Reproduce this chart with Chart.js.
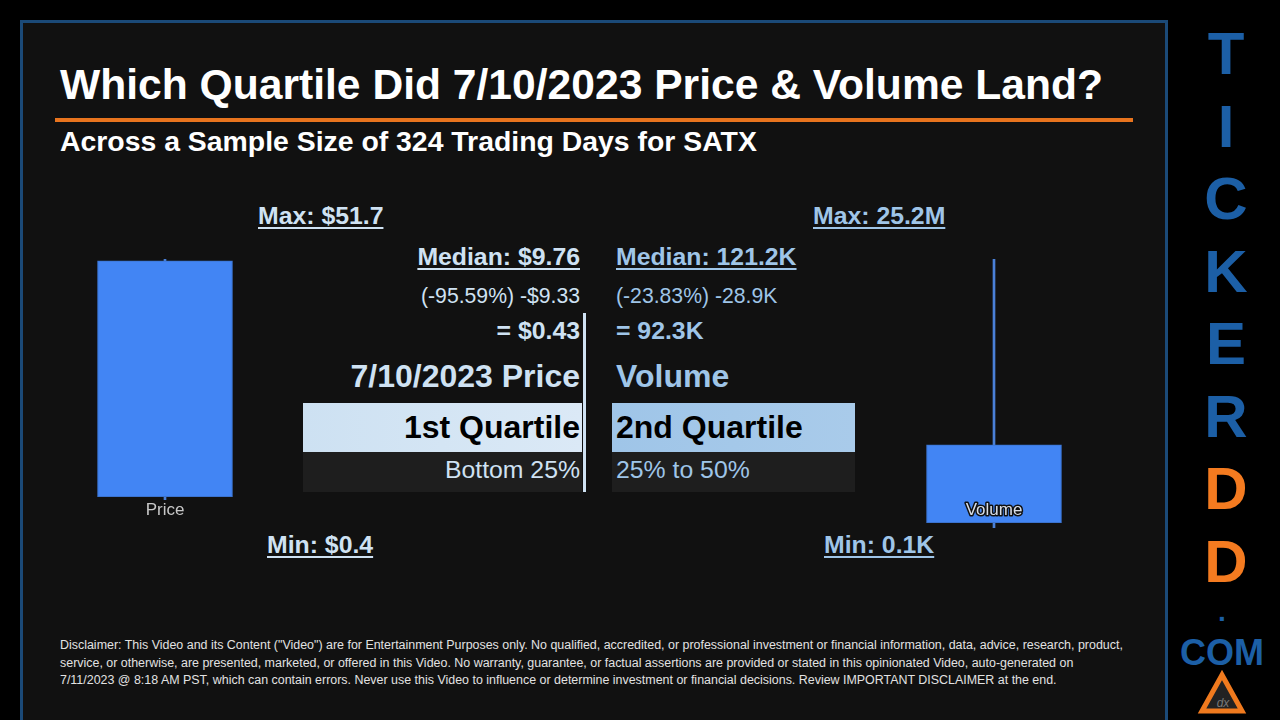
<!DOCTYPE html>
<html>
<head>
<meta charset="utf-8">
<script src="https://cdn.jsdelivr.net/npm/chart.js@4.4.1/dist/chart.umd.min.js"></script>
<style>
  html, body { margin: 0; padding: 0; background: #000; }
  body { width: 1280px; height: 720px; overflow: hidden; position: relative;
         font-family: "Liberation Sans", Arial, sans-serif; }
  .abs { position: absolute; white-space: nowrap; }
  .ul { text-decoration: underline; text-decoration-thickness: 2px; text-underline-offset: 3px; }
  #panel { position: absolute; left: 20px; top: 20px; width: 1148px; height: 720px;
           box-sizing: border-box; border: 3px solid #1b4a78; border-bottom: none; background: #111; }
  #rule { position: absolute; left: 55px; top: 118px; width: 1078px; height: 4px; background: #e8741e; }
  .box { position: absolute; }
  #disc { position: absolute; left: 60px; top: 637px; font-size: 12.45px; line-height: 17.5px; color: #e2e2e2; }
  canvas { position: absolute; }
</style>
</head>
<body>
<div id="panel"></div>
<div id="rule"></div>

<div class="box" style="left:303px;top:403px;width:279px;height:49px;background:linear-gradient(90deg,#cde1f2,#dbe9f6);"></div>
<div class="box" style="left:303px;top:452px;width:279px;height:40px;background:#1e1e1e;"></div>
<div class="box" style="left:612px;top:403px;width:243px;height:49px;background:linear-gradient(90deg,#9fc5e8,#a9cbea);"></div>
<div class="box" style="left:612px;top:452px;width:243px;height:40px;background:#1e1e1e;"></div>
<div class="box" style="left:583px;top:313px;width:3px;height:179px;background:#cfe2f3;"></div>

<div id="texts"></div>

<div id="disc">Disclaimer: This Video and its Content ("Video") are for Entertainment Purposes only. No qualified, accredited, or professional investment or financial information, data, advice, research, product,<br>service, or otherwise, are presented, marketed, or offered in this Video. No warranty, guarantee, or factual assertions are provided or stated in this opinionated Video, auto-generated on<br>7/11/2023 @ 8:18 AM PST, which can contain errors. Never use this Video to influence or determine investment or financial decisions. Review IMPORTANT DISCLAIMER at the end.</div>

<canvas id="priceChart" width="210" height="300" style="left:60px;top:240px;"></canvas>
<canvas id="volumeChart" width="210" height="300" style="left:889px;top:240px;"></canvas>

<svg style="position:absolute;left:1196px;top:668px;" width="54" height="50">
  <polygon points="26,7 6,43 46,43" fill="#222" stroke="#f07a1e" stroke-width="5" stroke-linejoin="miter"/>
  <text x="27" y="39" font-size="12" fill="#777" text-anchor="middle" font-family="Liberation Sans" font-style="italic">dx</text>
</svg>

<script>
// values
const categories = ["Price", "Volume"];
const priceRange = [0.4, 51.7];      // min, max ($)
const priceBox = [1.1, 51.3];        // lower / upper edge of box ($)
const volumeRange = [0.0001, 25.2];  // min, max (millions)
const volumeBox = [0.5, 7.8];        // lower / upper edge of box (millions)

const priceText = ["Max: $51.7", "Median: $9.76", "(-95.59%) -$9.33", "= $0.43",
                   "7/10/2023 Price", "1st Quartile", "Bottom 25%", "Min: $0.4"];
const volumeText = ["Max: 25.2M", "Median: 121.2K", "(-23.83%) -28.9K", "= 92.3K",
                    "Volume", "2nd Quartile", "25% to 50%", "Min: 0.1K"];
const logoLetters = ["T", "I", "C", "K", "E", "R", "D", "D"];

const holder = document.getElementById("texts");

// y is the centre of the capitals, lh the line height in em
function txt(s, x, y, size, bold, color, align, extra, lh) {
    lh = lh || 1;
    const d = document.createElement("div");
    d.className = "abs" + (extra || "");
    d.textContent = s;
    d.style.fontSize = size + "px";
    d.style.lineHeight = lh;
    d.style.fontWeight = bold ? "bold" : "normal";
    d.style.color = color;
    d.style.top = (y - size * (lh / 2 - 0.0115)) + "px";
    if (align === "right") d.style.right = (1280 - x) + "px";
    else if (align === "center") { d.style.left = (x - 50) + "px"; d.style.width = "100px"; d.style.textAlign = "center"; }
    else d.style.left = x + "px";
    holder.appendChild(d);
    return d;
}

txt("Which Quartile Did 7/10/2023 Price & Volume Land?", 60, 84, 42.6, true, "#fff");
txt("Across a Sample Size of 324 Trading Days for SATX", 60, 141, 28.4, true, "#fff");

const pc = "#cfe2f3", vc = "#9fc5e8";
txt(priceText[0], 258, 216, 24.8, true, pc, "left", " ul");
txt(priceText[1], 580, 257, 24.8, true, pc, "right", " ul");
txt(priceText[2], 580, 295, 21.2, false, pc, "right");
txt(priceText[3], 580, 331, 24.8, true, pc, "right");
txt(priceText[4], 580, 376, 32, true, pc, "right");
txt(priceText[5], 580, 427, 32, true, "#000", "right");
txt(priceText[6], 580, 470, 24.8, false, pc, "right");
txt(priceText[7], 267, 545, 24.8, true, pc, "left", " ul");

txt(volumeText[0], 813, 216, 24.8, true, vc, "left", " ul");
txt(volumeText[1], 616, 257, 24.8, true, vc, "left", " ul");
txt(volumeText[2], 616, 295, 21.2, false, vc, "left");
txt(volumeText[3], 616, 331, 24.8, true, vc, "left");
txt(volumeText[4], 616, 376, 32, true, vc, "left");
txt(volumeText[5], 616, 427, 32, true, "#000", "left");
txt(volumeText[6], 616, 470, 24.8, false, vc, "left");
txt(volumeText[7], 824, 545, 24.8, true, vc, "left", " ul");

// right hand logo column
logoLetters.forEach(function (ch, i) {
    const base = 75 + i * 72.5;
    txt(ch, 1226, base - 21.5, 60, true, i >= 6 ? "#f47b20" : "#1c5fa6", "center", "", 0.8);
});
txt(".", 1222, 612.5, 28, true, "#1c5fa6", "center", "", 0.6);
txt("COM", 1222, 653, 36, true, "#1c5fa6", "center", "", 0.8);

// draws the category label inside/below the box
const boxLabel = {
    id: "boxLabel",
    afterDatasetsDraw: function (chart, args, opts) {
        const ctx = chart.ctx;
        const x = chart.scales.x.getPixelForValue(0);
        ctx.save();
        ctx.font = "17px 'Liberation Sans', Arial, sans-serif";
        ctx.textAlign = "center";
        ctx.textBaseline = "middle";
        if (opts.outline) {
            ctx.lineWidth = 3;
            ctx.strokeStyle = "#111";
            ctx.lineJoin = "round";
            ctx.strokeText(opts.text, x, opts.y);
            ctx.fillStyle = "#d8dee8";
        } else {
            ctx.fillStyle = "#c8c8c8";
        }
        ctx.fillText(opts.text, x, opts.y);
        ctx.restore();
    }
};

function makeBox(id, label, range, box, pad, outline) {
    return new Chart(document.getElementById(id), {
        type: "bar",
        data: {
            labels: [label],
            datasets: [
                {
                    data: [range],
                    backgroundColor: "#4a80d8",
                    borderWidth: 0,
                    barThickness: 2,
                    grouped: false,
                    order: 2
                },
                {
                    data: [box],
                    backgroundColor: "#4285f4",
                    borderColor: "#3b73cf",
                    borderWidth: 1,
                    borderSkipped: false,
                    barThickness: 135,
                    grouped: false,
                    order: 1
                }
            ]
        },
        options: {
            responsive: false,
            animation: false,
            layout: { padding: { top: pad[0], bottom: pad[1], left: 0, right: 0 } },
            plugins: {
                legend: { display: false },
                tooltip: { enabled: false },
                boxLabel: { text: label, y: 270, outline: outline }
            },
            scales: {
                x: { display: false },
                y: { display: false, min: range[0], max: range[1] }
            }
        },
        plugins: [boxLabel]
    });
}

makeBox("priceChart", categories[0], priceRange, priceBox, [19, 40], false);
makeBox("volumeChart", categories[1], volumeRange, volumeBox, [19, 12], true);
</script>
</body>
</html>
